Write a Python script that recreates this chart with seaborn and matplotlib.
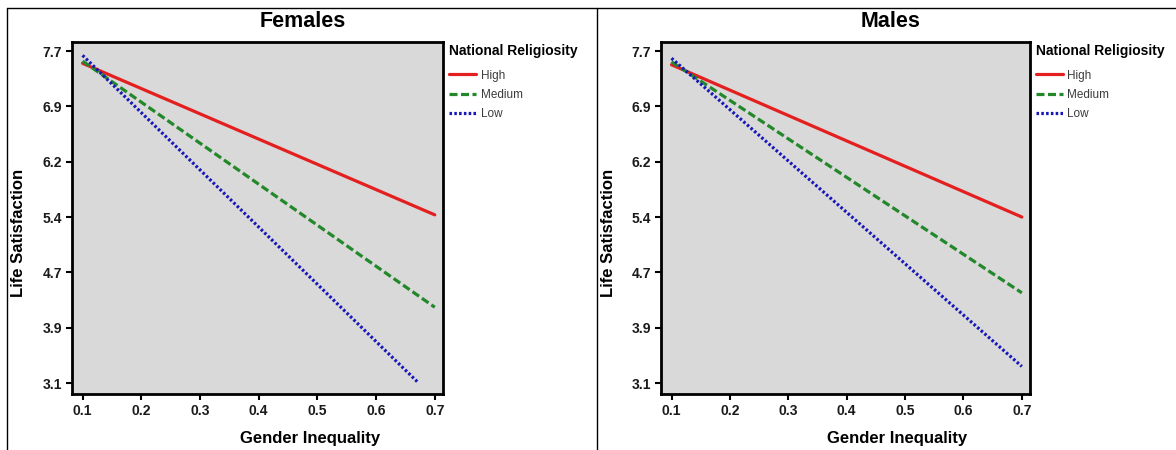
import numpy as np
import pandas as pd
import matplotlib
matplotlib.use('Agg')
import matplotlib.pyplot as plt
from matplotlib.lines import Line2D
import seaborn as sns

# Predicted life satisfaction at both ends of the gender inequality range
levels = ['High', 'Medium', 'Low']
gi_start = [0.1, 0.1, 0.1]

fem_gi_end = [0.7, 0.7, 0.67]
fem_start = [7.53, 7.56, 7.64]
fem_end = [5.43, 4.15, 3.12]

male_gi_end = [0.7, 0.7, 0.7]
male_start = [7.51, 7.55, 7.60]
male_end = [5.40, 4.35, 3.33]

x_ticks = [0.1, 0.2, 0.3, 0.4, 0.5, 0.6, 0.7]
y_tick_labels = ['3.1', '3.9', '4.7', '5.4', '6.2', '6.9', '7.7']

colors = {'High': '#e3201f', 'Medium': '#23882a', 'Low': '#1818b8'}
dashes = {'High': '', 'Medium': (2.5, 1.1), 'Low': (0.8, 0.7)}


def make_frame(x_end, y_start, y_end):
    rows = []
    for i, lvl in enumerate(levels):
        rows.append({'gi': gi_start[i], 'ls': y_start[i], 'rel': lvl})
        rows.append({'gi': x_end[i], 'ls': y_end[i], 'rel': lvl})
    return pd.DataFrame(rows)


fem_df = make_frame(fem_gi_end, fem_start, fem_end)
male_df = make_frame(male_gi_end, male_start, male_end)

sns.set_style('ticks')
plt.rcParams['font.family'] = ['Liberation Sans', 'DejaVu Sans']
plt.rcParams['text.color'] = 'black'
plt.rcParams['axes.labelcolor'] = 'black'
narrow = ['Liberation Sans Narrow', 'Liberation Sans', 'DejaVu Sans']

W, H = 1176, 450
fig = plt.figure(figsize=(W / 100, H / 100), dpi=100)

panels = [
    ('Females', fem_df, 72, 443),
    ('Males', male_df, 661, 1030),
]

for title, df, left, right in panels:
    ax = fig.add_axes([left / W, (H - 394) / H, (right - left) / W, 352 / H])
    ax.set_facecolor('#d9d9d9')
    sns.lineplot(data=df, x='gi', y='ls', hue='rel', style='rel',
                 hue_order=levels, style_order=levels,
                 palette=colors, dashes=dashes, linewidth=2.3, ax=ax)

    ax.set_xlim(0.082, 0.714)
    ax.set_ylim(2.948, 7.825)
    ax.set_xticks(x_ticks)
    ax.set_xticklabels([f'{v:.1f}' for v in x_ticks])
    ax.set_yticks(np.linspace(3.1, 7.7, len(y_tick_labels)))
    ax.set_yticklabels(y_tick_labels)
    for lab in ax.get_xticklabels() + ax.get_yticklabels():
        lab.set_fontfamily(narrow)
        lab.set_fontweight('bold')
        lab.set_fontsize(10)
        lab.set_color('#1a1a1a')
    ax.tick_params(axis='both', length=4.5, width=1.5, color='black', pad=2.5)

    for sp in ax.spines.values():
        sp.set_visible(True)
        sp.set_linewidth(2)
        sp.set_color('black')

    ax.set_title(title, x=0.623, y=1.058, pad=0, va='center',
                 fontsize=15.5, fontweight='bold', color='black')
    ax.set_xlabel('Gender Inequality', fontsize=12, fontweight='bold')
    ax.set_ylabel('Life Satisfaction', fontsize=12, fontweight='bold')
    ax.xaxis.set_label_coords(0.641, -0.125)
    ax.xaxis.label.set_va('center')
    ax.yaxis.set_label_coords(-0.143, 0.457)
    ax.yaxis.label.set_va('center')

    sns.move_legend(ax, 'upper left', bbox_to_anchor=(1.012, 1.0),
                    title='National Religiosity', frameon=False,
                    fontsize=8.5, title_fontproperties={'weight': 'bold', 'size': 10},
                    alignment='left', borderaxespad=0, borderpad=0.15,
                    handlelength=2.3, handletextpad=0.35, labelspacing=0.6)
    leg = ax.get_legend()
    leg.get_title().set_color('black')
    leg._legend_box.sep = 8.5  # a bit more room under the title
    for t in leg.get_texts():
        t.set_color('#3c3c3c')

# panel frames
line_kw = dict(color='black', lw=1.0)
fig.add_artist(Line2D([7 / W, 1.0], [1 - 8 / H, 1 - 8 / H], **line_kw))
fig.add_artist(Line2D([7 / W, 7 / W], [0, 1 - 8 / H], **line_kw))
fig.add_artist(Line2D([597 / W, 597 / W], [0, 1 - 8 / H], **line_kw))

fig.savefig('out.png', dpi=100, facecolor='white')
